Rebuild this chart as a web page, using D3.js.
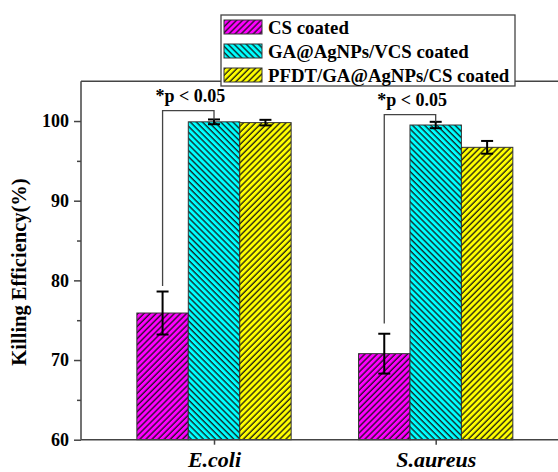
<!DOCTYPE html>
<html>
<head>
<meta charset="utf-8">
<script src="https://cdn.jsdelivr.net/npm/d3@7"></script>
<style>
  body { margin: 0; background: #fff; }
  text { font-family: "Liberation Serif", "Times New Roman", serif; font-weight: bold; }
</style>
</head>
<body>
<div id="chart"></div>
<script>
// killing efficiency of the three coatings against two bacteria
const categories = ['E.coli', 'S.aureus'];
const seriesNames = ['CS coated', 'GA@AgNPs/VCS coated', 'PFDT/GA@AgNPs/CS coated'];

const csValues = [75.9, 70.8];
const csErrors = [2.7, 2.5];
const gaValues = [99.9, 99.5];
const gaErrors = [0.3, 0.4];
const pfdtValues = [99.8, 96.7];
const pfdtErrors = [0.35, 0.8];

// significance brackets (CS vs GA@AgNPs)
const sigLabels = ['*p < 0.05', '*p < 0.05'];
const sigLevels = [101.3, 100.8];
const sigLeftEnds = [79.3, 74.6];

const yTicks = [60, 70, 80, 90, 100];
const yMinorTicks = [65, 75, 85, 95];

const width = 558;
const height = 472;

const colors = ['#ff00ff', '#00ffff', '#ffff00'];
const hatchAngles = [45, -45, 45];

const x = d3.scaleLinear().domain([0.4, 2.6]).range([81, 568.7]);
const y = d3.scaleLinear().domain([60, 105]).range([439.7, 81.2]);
const barW = 0.232;

const svg = d3.select('#chart').append('svg')
  .attr('width', width)
  .attr('height', height);

// hatch patterns
const defs = svg.append('defs');
colors.forEach((c, i) => {
  const p = defs.append('pattern')
    .attr('id', 'hatch' + i)
    .attr('patternUnits', 'userSpaceOnUse')
    .attr('width', 4.3)
    .attr('height', 4.3)
    .attr('patternTransform', `rotate(${hatchAngles[i]})`);
  p.append('rect').attr('width', 4.3).attr('height', 4.3).attr('fill', c);
  p.append('line')
    .attr('x1', 1).attr('x2', 1).attr('y1', 0).attr('y2', 4.3)
    .attr('stroke', '#111').attr('stroke-width', 1.25);
});

const series = [
  { values: csValues, errors: csErrors },
  { values: gaValues, errors: gaErrors },
  { values: pfdtValues, errors: pfdtErrors }
];

// bars
series.forEach((s, si) => {
  svg.selectAll('.bar' + si)
    .data(s.values)
    .enter()
    .append('rect')
    .attr('class', 'bar' + si)
    .attr('x', (d, i) => x(i + 1 + (si - 1) * barW - barW / 2))
    .attr('y', d => y(d))
    .attr('width', x(barW) - x(0))
    .attr('height', d => y(60) - y(d))
    .attr('fill', `url(#hatch${si})`)
    .attr('stroke', '#333')
    .attr('stroke-width', 1);
});

// error bars
series.forEach((s, si) => {
  s.values.forEach((v, i) => {
    const cx = x(i + 1 + (si - 1) * barW);
    const e = s.errors[i];
    const g = svg.append('g').attr('stroke', '#000').attr('stroke-width', 2);
    g.append('line').attr('x1', cx).attr('x2', cx).attr('y1', y(v - e)).attr('y2', y(v + e));
    g.append('line').attr('x1', cx - 6).attr('x2', cx + 6).attr('y1', y(v - e)).attr('y2', y(v - e));
    g.append('line').attr('x1', cx - 6).attr('x2', cx + 6).attr('y1', y(v + e)).attr('y2', y(v + e));
  });
});

// significance brackets
categories.forEach((c, i) => {
  const xl = x(i + 1 - barW);
  const xr = x(i + 1);
  const top = gaValues[i] + gaErrors[i];
  svg.append('path')
    .attr('d', `M${xl},${y(sigLeftEnds[i])}V${y(sigLevels[i])}H${xr}V${y(top)}`)
    .attr('fill', 'none')
    .attr('stroke', '#444')
    .attr('stroke-width', 1.3);
  svg.append('text')
    .attr('x', xl - 7)
    .attr('y', y(sigLevels[i]) - 9)
    .attr('font-size', 18)
    .text(sigLabels[i]);
});

// axes
const axisColor = '#444';
const yAxis = svg.append('g')
  .attr('transform', `translate(${x(0.4)},0)`)
  .call(d3.axisLeft(y).tickValues(yTicks).tickSize(7).tickPadding(5));
svg.append('g')
  .attr('transform', `translate(${x(0.4)},0)`)
  .call(d3.axisLeft(y).tickValues(yMinorTicks).tickSize(4).tickFormat(''))
  .call(g => g.select('.domain').remove());

const xAxis = svg.append('g')
  .attr('transform', `translate(0,${y(60)})`)
  .call(d3.axisBottom(x).tickValues([1, 2]).tickSize(5).tickPadding(6.5)
    .tickFormat((d, i) => categories[i]));

// top frame line
svg.append('line')
  .attr('x1', x(0.4)).attr('x2', width)
  .attr('y1', y(105)).attr('y2', y(105))
  .attr('stroke', axisColor).attr('stroke-width', 1.5);

svg.selectAll('.domain, .tick line').attr('stroke', axisColor).attr('stroke-width', 1.5);
yAxis.selectAll('.domain').attr('d', `M0,${y(60)}V${y(105)}`);
xAxis.selectAll('.domain').attr('d', `M${x(0.4)},0H${width}`);
yAxis.selectAll('.tick text')
  .attr('font-size', 18).attr('fill', '#000')
  .attr('font-family', '"Liberation Serif", serif').attr('font-weight', 'bold');
xAxis.selectAll('.tick text')
  .attr('font-size', 22).attr('fill', '#000').attr('font-style', 'italic')
  .attr('font-family', '"Liberation Serif", serif').attr('font-weight', 'bold');

// y axis title
svg.append('text')
  .attr('transform', 'rotate(-90)')
  .attr('x', -272)
  .attr('y', 26)
  .attr('text-anchor', 'middle')
  .attr('font-size', 20.5)
  .text('Killing Efficiency(%)');

// legend
const legend = svg.append('g');
legend.append('rect')
  .attr('x', 221).attr('y', 15)
  .attr('width', 294).attr('height', 71)
  .attr('fill', '#fff')
  .attr('stroke', '#444').attr('stroke-width', 1.3);

seriesNames.forEach((name, i) => {
  legend.append('rect')
    .attr('x', 224)
    .attr('y', 20 + i * 24)
    .attr('width', 38)
    .attr('height', 14)
    .attr('fill', `url(#hatch${i})`)
    .attr('stroke', '#333');
  legend.append('text')
    .attr('x', 268)
    .attr('y', 33.5 + i * 24)
    .attr('font-size', 18.8)
    .text(name);
});
</script>
</body>
</html>
